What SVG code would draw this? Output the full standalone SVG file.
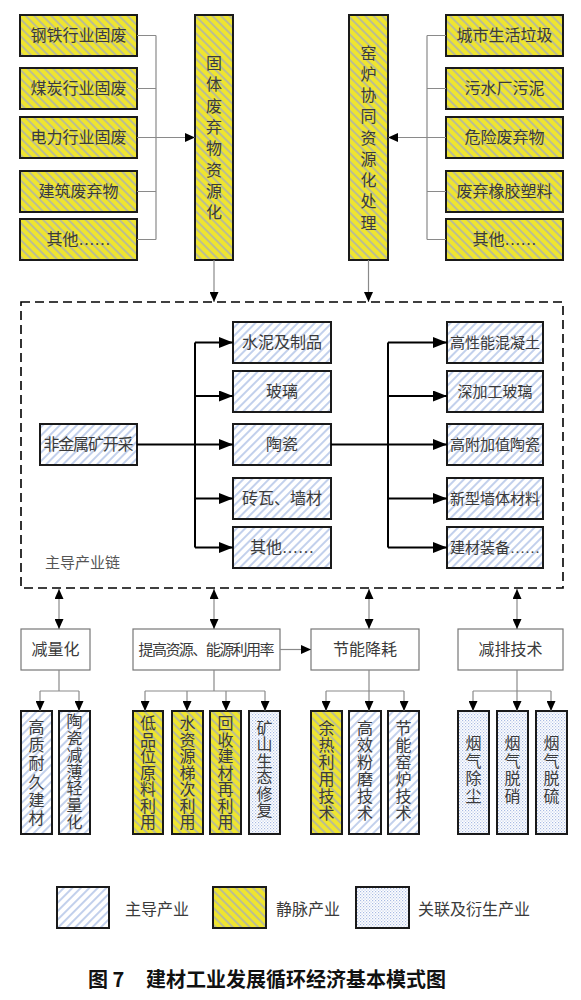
<svg xmlns="http://www.w3.org/2000/svg" width="581" height="1000" viewBox="0 0 581 1000">
<defs>
<pattern id="pB" width="6" height="6" patternUnits="userSpaceOnUse" patternTransform="rotate(45)"><rect width="6" height="6" fill="#fff"/><line x1="1" y1="0" x2="1" y2="6" stroke="#a9bde4" stroke-width="1.4"/></pattern>
<pattern id="pY" width="6" height="6" patternUnits="userSpaceOnUse" patternTransform="rotate(-45)"><rect width="6" height="6" fill="#efe52f"/><line x1="1" y1="0" x2="1" y2="6" stroke="#a6aebb" stroke-width="1.4"/></pattern>
<pattern id="pD" width="3" height="3" patternUnits="userSpaceOnUse"><rect width="3" height="3" fill="#fff"/><rect x="0" y="0" width="1.2" height="1.2" fill="#a9bbe3"/><rect x="1.5" y="1.5" width="1.2" height="1.2" fill="#bccaea"/></pattern>
<marker id="ah" markerUnits="userSpaceOnUse" markerWidth="11" markerHeight="9" refX="10" refY="4.5" orient="auto-start-reverse"><path d="M0,0 L10,4.5 L0,9 z" fill="#000"/></marker>
<marker id="ahL" markerUnits="userSpaceOnUse" markerWidth="15" markerHeight="11" refX="14" refY="5.5" orient="auto"><path d="M0,0 L14,5.5 L0,11 z" fill="#000"/></marker>
</defs>
<style>
.t{font-family:"Liberation Serif","Noto Sans CJK SC",serif;font-size:16px;fill:#3a3a3a;text-anchor:middle;dominant-baseline:central}
.tl{font-family:"Liberation Serif","Noto Sans CJK SC",serif;font-size:16px;fill:#3a3a3a;dominant-baseline:central}
.y{fill:url(#pY);stroke:#1a1a1a;stroke-width:2}
.b{fill:url(#pB);stroke:#1a1a1a;stroke-width:2}
.d{fill:url(#pD);stroke:#1a1a1a;stroke-width:2}
.w{fill:#fff;stroke:#777;stroke-width:1.2}
.g{fill:none;stroke:#8a8a8a;stroke-width:1.2}
.k{fill:none;stroke:#000;stroke-width:2}
</style>
<rect width="581" height="1000" fill="#fff"/>

<!-- top left sources -->
<g id="n-gangtie"><rect class="y" x="20" y="15" width="117" height="41"/><text class="t" x="78.5" y="35.5">钢铁行业固废</text></g>
<g id="n-meitan"><rect class="y" x="20" y="68" width="117" height="41"/><text class="t" x="78.5" y="88.5">煤炭行业固废</text></g>
<g id="n-dianli"><rect class="y" x="20" y="117" width="117" height="41"/><text class="t" x="78.5" y="137.5">电力行业固废</text></g>
<g id="n-jianzhu"><rect class="y" x="20" y="171" width="117" height="41"/><text class="t" x="78.5" y="191.5">建筑废弃物</text></g>
<g id="n-qita1"><rect class="y" x="20" y="219" width="117" height="41"/><text class="t" x="78.5" y="239.5">其他……</text></g>

<g id="n-guti"><rect class="y" x="195" y="15" width="38" height="245"/>
<text class="t"><tspan x="214" y="63">固</tspan><tspan x="214" y="84.3">体</tspan><tspan x="214" y="105.6">废</tspan><tspan x="214" y="127">弃</tspan><tspan x="214" y="148.2">物</tspan><tspan x="214" y="169.5">资</tspan><tspan x="214" y="190.8">源</tspan><tspan x="214" y="212">化</tspan></text></g>

<g id="n-yaolu"><rect class="y" x="349" y="15" width="39" height="245"/>
<text class="t"><tspan x="368.5" y="52.5">窑</tspan><tspan x="368.5" y="73.8">炉</tspan><tspan x="368.5" y="95">协</tspan><tspan x="368.5" y="116.3">同</tspan><tspan x="368.5" y="137.5">资</tspan><tspan x="368.5" y="158.8">源</tspan><tspan x="368.5" y="180">化</tspan><tspan x="368.5" y="201.3">处</tspan><tspan x="368.5" y="222.5">理</tspan></text></g>

<!-- top right sources -->
<g id="n-chengshi"><rect class="y" x="446" y="15" width="117" height="41"/><text class="t" x="504.5" y="35.5">城市生活垃圾</text></g>
<g id="n-wushui"><rect class="y" x="446" y="68" width="117" height="41"/><text class="t" x="504.5" y="88.5">污水厂污泥</text></g>
<g id="n-weixian"><rect class="y" x="446" y="117" width="117" height="41"/><text class="t" x="504.5" y="137.5">危险废弃物</text></g>
<g id="n-xiangjiao"><rect class="y" x="446" y="171" width="117" height="41"/><text class="t" x="504.5" y="191.5">废弃橡胶塑料</text></g>
<g id="n-qita2"><rect class="y" x="446" y="219" width="117" height="41"/><text class="t" x="504.5" y="239.5">其他……</text></g>

<!-- main chain -->
<g id="n-chain"><rect x="21" y="302" width="542" height="286" fill="none" stroke="#000" stroke-width="1.6" stroke-dasharray="9,5"/><text class="tl" x="45" y="563" style="font-size:15px;fill:#555">主导产业链</text></g>
<g id="n-feijinshu"><rect class="b" x="40" y="424" width="97" height="41"/><text class="t" x="88.5" y="444.5" textLength="90">非金属矿开采</text></g>
<g id="n-shuini"><rect class="b" x="233" y="322" width="98" height="41"/><text class="t" x="282" y="342.5">水泥及制品</text></g>
<g id="n-boli"><rect class="b" x="233" y="371" width="98" height="41"/><text class="t" x="282" y="391.5">玻璃</text></g>
<g id="n-taoci"><rect class="b" x="233" y="424" width="98" height="41"/><text class="t" x="282" y="444.5">陶瓷</text></g>
<g id="n-zhuanwa"><rect class="b" x="233" y="478" width="98" height="41"/><text class="t" x="282" y="498.5">砖瓦、墙材</text></g>
<g id="n-qita3"><rect class="b" x="233" y="527" width="98" height="41"/><text class="t" x="282" y="547.5">其他……</text></g>
<g id="n-gaoxingneng"><rect class="b" x="447" y="322" width="96" height="41"/><text class="t" x="495" y="342.5" style="font-size:15px">高性能混凝土</text></g>
<g id="n-shenjiagong"><rect class="b" x="447" y="371" width="96" height="41"/><text class="t" x="495" y="391.5" style="font-size:15px">深加工玻璃</text></g>
<g id="n-gaofujia"><rect class="b" x="447" y="424" width="96" height="41"/><text class="t" x="495" y="444.5" style="font-size:15px">高附加值陶瓷</text></g>
<g id="n-xinxing"><rect class="b" x="447" y="478" width="96" height="41"/><text class="t" x="495" y="498.5" style="font-size:15px">新型墙体材料</text></g>
<g id="n-zhuangbei"><rect class="b" x="447" y="527" width="96" height="41"/><text class="t" x="495" y="547.5" style="font-size:15px">建材装备……</text></g>

<!-- middle row -->
<g id="n-jianlianghua"><rect class="w" x="21" y="629" width="69" height="41"/><text class="t" x="55.5" y="649.5">减量化</text></g>
<g id="n-tigao"><rect class="w" x="133" y="629" width="147" height="41"/><text class="t" x="206.5" y="649.5" textLength="136" style="font-size:15px">提高资源、能源利用率</text></g>
<g id="n-jieneng"><rect class="w" x="311" y="629" width="108" height="41"/><text class="t" x="365" y="649.5">节能降耗</text></g>
<g id="n-jianpai"><rect class="w" x="458" y="629" width="105" height="41"/><text class="t" x="510.5" y="649.5">减排技术</text></g>

<!-- bottom row -->
<g id="n-gaozhi"><rect class="b" x="21" y="711" width="31" height="123"/><text class="t"><tspan x="36.5" y="727">高</tspan><tspan x="36.5" y="745">质</tspan><tspan x="36.5" y="763">耐</tspan><tspan x="36.5" y="782">久</tspan><tspan x="36.5" y="800">建</tspan><tspan x="36.5" y="818">材</tspan></text></g>
<g id="n-taocijianbo"><rect class="b" x="59" y="711" width="31" height="123"/><text class="t"><tspan x="74.5" y="721">陶</tspan><tspan x="74.5" y="738">瓷</tspan><tspan x="74.5" y="755">减</tspan><tspan x="74.5" y="772">薄</tspan><tspan x="74.5" y="788">轻</tspan><tspan x="74.5" y="805">量</tspan><tspan x="74.5" y="822">化</tspan></text></g>
<g id="n-dipinwei"><rect class="y" x="133" y="711" width="30" height="123"/><text class="t"><tspan x="148" y="723">低</tspan><tspan x="148" y="739.5">品</tspan><tspan x="148" y="756">位</tspan><tspan x="148" y="772.5">原</tspan><tspan x="148" y="789">料</tspan><tspan x="148" y="805.5">利</tspan><tspan x="148" y="822">用</tspan></text></g>
<g id="n-shuiziyuan"><rect class="y" x="172" y="711" width="31" height="123"/><text class="t"><tspan x="187.5" y="723">水</tspan><tspan x="187.5" y="739.5">资</tspan><tspan x="187.5" y="756">源</tspan><tspan x="187.5" y="772.5">梯</tspan><tspan x="187.5" y="789">次</tspan><tspan x="187.5" y="805.5">利</tspan><tspan x="187.5" y="822">用</tspan></text></g>
<g id="n-huishou"><rect class="y" x="210" y="711" width="31" height="123"/><text class="t"><tspan x="225.5" y="723">回</tspan><tspan x="225.5" y="739.5">收</tspan><tspan x="225.5" y="756">建</tspan><tspan x="225.5" y="772.5">材</tspan><tspan x="225.5" y="789">再</tspan><tspan x="225.5" y="805.5">利</tspan><tspan x="225.5" y="822">用</tspan></text></g>
<g id="n-kuangshan"><rect class="d" x="249" y="711" width="31" height="123"/><text class="t"><tspan x="264.5" y="728">矿</tspan><tspan x="264.5" y="744.4">山</tspan><tspan x="264.5" y="760.8">生</tspan><tspan x="264.5" y="777.2">态</tspan><tspan x="264.5" y="793.6">修</tspan><tspan x="264.5" y="810">复</tspan></text></g>
<g id="n-yure"><rect class="y" x="311" y="711" width="31" height="123"/><text class="t"><tspan x="326.5" y="728">余</tspan><tspan x="326.5" y="745">热</tspan><tspan x="326.5" y="762">利</tspan><tspan x="326.5" y="779">用</tspan><tspan x="326.5" y="796">技</tspan><tspan x="326.5" y="813">术</tspan></text></g>
<g id="n-fenmo"><rect class="b" x="349" y="711" width="32" height="123"/><text class="t"><tspan x="365" y="728">高</tspan><tspan x="365" y="745">效</tspan><tspan x="365" y="762">粉</tspan><tspan x="365" y="779">磨</tspan><tspan x="365" y="796">技</tspan><tspan x="365" y="813">术</tspan></text></g>
<g id="n-yaoluji"><rect class="b" x="388" y="711" width="31" height="123"/><text class="t"><tspan x="403.5" y="728">节</tspan><tspan x="403.5" y="745">能</tspan><tspan x="403.5" y="762">窑</tspan><tspan x="403.5" y="779">炉</tspan><tspan x="403.5" y="796">技</tspan><tspan x="403.5" y="813">术</tspan></text></g>
<g id="n-chuchen"><rect class="d" x="458" y="711" width="31" height="123"/><text class="t"><tspan x="473.5" y="743">烟</tspan><tspan x="473.5" y="760.5">气</tspan><tspan x="473.5" y="778">除</tspan><tspan x="473.5" y="795.5">尘</tspan></text></g>
<g id="n-tuoxiao"><rect class="d" x="497" y="711" width="31" height="123"/><text class="t"><tspan x="512.5" y="743">烟</tspan><tspan x="512.5" y="760.5">气</tspan><tspan x="512.5" y="778">脱</tspan><tspan x="512.5" y="795.5">硝</tspan></text></g>
<g id="n-tuoliu"><rect class="d" x="536" y="711" width="31" height="123"/><text class="t"><tspan x="551.5" y="743">烟</tspan><tspan x="551.5" y="760.5">气</tspan><tspan x="551.5" y="778">脱</tspan><tspan x="551.5" y="795.5">硫</tspan></text></g>

<!-- connectors -->
<g id="connectors">
<path class="g" d="M137,35.5 H156 M137,88.5 H156 M137,191.5 H156 M137,239.5 H156 M156,35.5 V239.5"/>
<path class="g" d="M137,137.5 H195" marker-end="url(#ah)"/>
<path class="g" d="M446,35.5 H427 M446,88.5 H427 M446,191.5 H427 M446,239.5 H427 M427,35.5 V239.5"/>
<path class="g" d="M446,137.5 H388" marker-end="url(#ah)"/>
<path class="g" d="M214,260 V302" marker-end="url(#ah)"/>
<path class="g" d="M368.5,260 V302" marker-end="url(#ah)"/>

<path class="k" d="M195,342.5 V547.5"/>
<path class="k" d="M137,444.5 H233" marker-end="url(#ahL)"/>
<path class="k" d="M195,342.5 H233" marker-end="url(#ahL)"/>
<path class="k" d="M195,396 H233" marker-end="url(#ahL)"/>
<path class="k" d="M195,498.5 H233" marker-end="url(#ahL)"/>
<path class="k" d="M195,547.5 H233" marker-end="url(#ahL)"/>
<path class="k" d="M388,342.5 V547.5"/>
<path class="k" d="M331,444.5 H447" marker-end="url(#ahL)"/>
<path class="k" d="M388,342.5 H447" marker-end="url(#ahL)"/>
<path class="k" d="M388,396 H447" marker-end="url(#ahL)"/>
<path class="k" d="M388,498.5 H447" marker-end="url(#ahL)"/>
<path class="k" d="M388,547.5 H447" marker-end="url(#ahL)"/>

<path class="g" d="M59,589 V629" marker-start="url(#ah)" marker-end="url(#ah)"/>
<path class="g" d="M214,589 V629" marker-start="url(#ah)" marker-end="url(#ah)"/>
<path class="g" d="M369,589 V629" marker-start="url(#ah)" marker-end="url(#ah)"/>
<path class="g" d="M517,589 V629" marker-start="url(#ah)" marker-end="url(#ah)"/>
<path class="g" d="M280,649.5 H311" marker-end="url(#ah)"/>

<path class="g" d="M59,670 V691 M40,691 H79"/>
<path class="g" d="M40,691 V711" marker-end="url(#ah)"/>
<path class="g" d="M79,691 V711" marker-end="url(#ah)"/>
<path class="g" d="M214,670 V691 M145,691 H265"/>
<path class="g" d="M145,691 V711" marker-end="url(#ah)"/>
<path class="g" d="M187,691 V711" marker-end="url(#ah)"/>
<path class="g" d="M226,691 V711" marker-end="url(#ah)"/>
<path class="g" d="M265,691 V711" marker-end="url(#ah)"/>
<path class="g" d="M326,691 H404"/>
<path class="g" d="M369,670 V711" marker-end="url(#ah)"/>
<path class="g" d="M326,691 V711" marker-end="url(#ah)"/>
<path class="g" d="M404,691 V711" marker-end="url(#ah)"/>
<path class="g" d="M473,691 H551"/>
<path class="g" d="M517,670 V711" marker-end="url(#ah)"/>
<path class="g" d="M473,691 V711" marker-end="url(#ah)"/>
<path class="g" d="M551,691 V711" marker-end="url(#ah)"/>
</g>

<!-- legend -->
<g id="legend-zhudao"><rect class="b" x="57" y="887" width="52" height="41"/><text class="tl" x="125" y="909">主导产业</text></g>
<g id="legend-jingmai"><rect class="y" x="213" y="887" width="53" height="41"/><text class="tl" x="276" y="909">静脉产业</text></g>
<g id="legend-guanlian"><rect class="d" x="356" y="887" width="53" height="41"/><text class="tl" x="418" y="909">关联及衍生产业</text></g>

<g id="title">
<text x="88" y="987" style="font-family:'Noto Sans CJK SC','Liberation Sans',sans-serif;font-size:20px;font-weight:bold;fill:#111">图 7</text>
<text x="146" y="987" textLength="300" style="font-family:'Noto Sans CJK SC','Liberation Sans',sans-serif;font-size:20px;font-weight:bold;fill:#111">建材工业发展循环经济基本模式图</text>
</g>
</svg>
